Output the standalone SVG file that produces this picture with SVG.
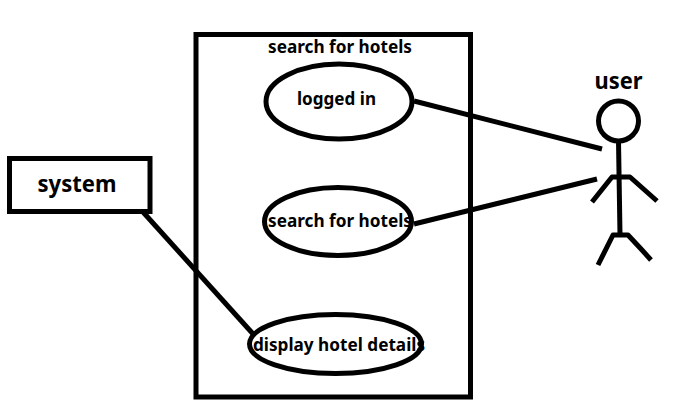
<svg xmlns="http://www.w3.org/2000/svg" width="675" height="408" viewBox="0 0 675 408">
<style>
.s{fill:none;stroke:#000;stroke-width:5}
.e{fill:none;stroke:#000;stroke-width:5}
.j{fill:none;stroke:#000;stroke-width:5;stroke-linejoin:round}
text{font-family:"Noto Sans","Open Sans","Liberation Sans",sans-serif;font-weight:700;fill:#000;text-anchor:middle}
.m{font-size:18px}
.l{font-size:23px}
</style>
<rect width="675" height="408" fill="#fff"/>
<g id="boundary"><rect class="s" x="196" y="34.5" width="274.5" height="362.5"/><text class="m" x="340" y="52.500" textLength="144" lengthAdjust="spacingAndGlyphs">search for hotels</text></g>
<g id="connectors">
<line class="j" x1="143" y1="212" x2="254" y2="335"/>
<line class="j" x1="414" y1="101" x2="602" y2="149"/>
<line class="j" x1="414" y1="224" x2="597" y2="179"/>
</g>
<g id="system"><rect class="s" x="9.5" y="158.5" width="140.5" height="53"/><text class="l" x="77" y="192" textLength="79" lengthAdjust="spacingAndGlyphs">system</text></g>
<g id="logged-in"><ellipse class="e" cx="339" cy="101.500" rx="73" ry="37.500"/><text class="m" x="336.500" y="105" textLength="79" lengthAdjust="spacingAndGlyphs">logged in</text></g>
<g id="search-for-hotels"><ellipse class="e" cx="338" cy="221.500" rx="73.500" ry="34"/><text class="m" x="340" y="227" textLength="144" lengthAdjust="spacingAndGlyphs">search for hotels</text></g>
<g id="display-hotel-details"><ellipse class="e" cx="335.500" cy="344" rx="86" ry="29.500"/><text class="m" x="339" y="351" textLength="172" lengthAdjust="spacingAndGlyphs">display hotel details</text></g>
<g id="user">
<text class="l" x="618.500" y="89" textLength="48" lengthAdjust="spacingAndGlyphs">user</text>
<circle class="j" cx="618.500" cy="121" r="20"/>
<polyline class="j" points="618.500,141 620,235"/>
<polyline class="j" points="592,202 612,177 630,177 657,201"/>
<polyline class="j" points="598,265 613,235 628,235 642,250 651,260"/>
</g>
</svg>
